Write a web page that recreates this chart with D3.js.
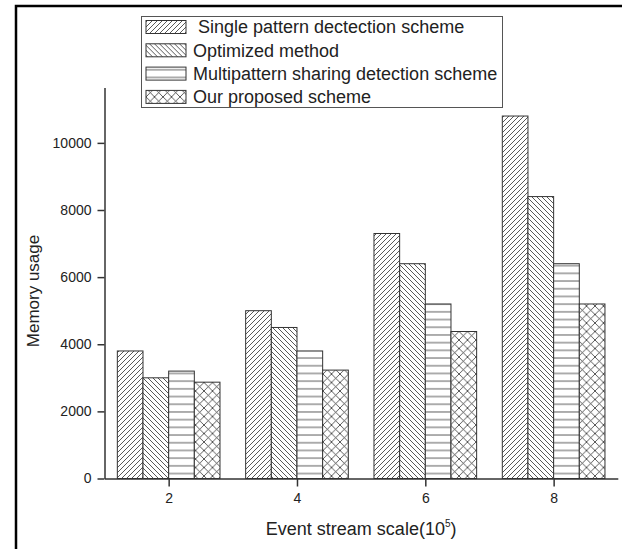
<!DOCTYPE html>
<html>
<head>
<meta charset="utf-8">
<script src="https://cdn.jsdelivr.net/npm/d3@7"></script>
<style>
  body { margin: 0; background: #fff; }
  text { font-family: "Liberation Sans", Arial, sans-serif; fill: #222; }
</style>
</head>
<body>
<script>
//Chart data
var categories = [2, 4, 6, 8];
var seriesNames = [" Single pattern dectection scheme", "Optimized method",
                   "Multipattern sharing detection scheme", "Our proposed scheme"];
var single = [3800, 5000, 7300, 10800];
var optimized = [3000, 4500, 6400, 8400];
var multipattern = [3200, 3800, 5200, 6400];
var proposed = [2870, 3230, 4380, 5200];
var yTicks = [0, 2000, 4000, 6000, 8000, 10000];

var allSeries = [single, optimized, multipattern, proposed];

var w = 627, h = 549;

var svg = d3.select("body").append("svg")
    .attr("width", w)
    .attr("height", h);

//Patterns
var defs = svg.append("defs");
function makePattern(id, pw, ph, d) {
    var p = defs.append("pattern")
        .attr("id", id)
        .attr("patternUnits", "userSpaceOnUse")
        .attr("width", pw)
        .attr("height", ph);
    p.append("rect").attr("width", pw).attr("height", ph).attr("fill", "#fff");
    p.append("path").attr("d", d)
        .attr("stroke", "#222").attr("stroke-width", 0.75).attr("fill", "none");
}
makePattern("p0", 5, 5, "M0,5L5,0M-1,1L1,-1M4,6L6,4");
makePattern("p1", 5, 5, "M0,0L5,5M4,-1L6,1M-1,4L1,6");
makePattern("p2", 10, 7.7, "M0,3.85L10,3.85");
makePattern("p3", 8.5, 8.5, "M0,0L8.5,8.5M8.5,0L0,8.5");

//Frame
svg.append("path")
    .attr("d", "M16," + h + "L16,6L622,6")
    .attr("fill", "none")
    .attr("stroke", "#000")
    .attr("stroke-width", 2.5);

//Scales
var xScale = d3.scaleLinear().domain([1, 9]).range([104.5, 617.8]);
var yScale = d3.scaleLinear().domain([0, 11650]).range([478.5, 87.5]);

var groupW = (xScale(2) - xScale(1)) * 0.8 * 2;
var inner = d3.scaleBand().domain(d3.range(allSeries.length))
    .range([-groupW / 2, groupW / 2]);

//Bars
allSeries.forEach(function(vals, si) {
    svg.append("g").selectAll("rect")
        .data(vals)
        .enter().append("rect")
        .attr("x", function(d, i) { return xScale(categories[i]) + inner(si); })
        .attr("y", function(d) { return yScale(d); })
        .attr("width", inner.bandwidth())
        .attr("height", function(d) { return yScale(0) - yScale(d); })
        .attr("fill", "url(#p" + si + ")")
        .attr("stroke", "#333")
        .attr("stroke-width", 1);
});

//Axes
var xAxis = d3.axisBottom(xScale).tickValues(categories)
    .tickFormat(d3.format("d"))
    .tickSize(8).tickSizeOuter(0).tickPadding(7);
var yAxis = d3.axisLeft(yScale).tickValues(yTicks)
    .tickFormat(d3.format("d"))
    .tickSize(7).tickSizeOuter(0).tickPadding(6);

var gx = svg.append("g").attr("transform", "translate(0," + yScale(0) + ")").call(xAxis);
var gy = svg.append("g").attr("transform", "translate(" + xScale(1) + ",0)").call(yAxis);

[gx, gy].forEach(function(g) {
    g.select(".domain").attr("stroke", "#333").attr("stroke-width", 1.5);
    g.selectAll(".tick line").attr("stroke", "#333").attr("stroke-width", 1.5);
    g.selectAll(".tick text")
        .style("font-family", "'Liberation Sans', Arial, sans-serif")
        .style("font-size", "14px")
        .attr("fill", "#222");
});

//Axis titles
var xt = svg.append("text")
    .attr("x", (xScale(1) + xScale(9)) / 2)
    .attr("y", 535)
    .attr("text-anchor", "middle")
    .style("font-size", "18px");
xt.append("tspan").text("Event stream scale(10");
xt.append("tspan").attr("dy", -8).style("font-size", "10px").text("5");
xt.append("tspan").attr("dy", 8).text(")");

svg.append("text")
    .attr("transform", "translate(33," + 291 + ") rotate(-90)")
    .attr("text-anchor", "middle")
    .attr("dy", "0.35em")
    .style("font-size", "17px")
    .text("Memory usage");

//Legend
var legend = svg.append("g");
legend.append("rect")
    .attr("x", 141.5).attr("y", 16.5)
    .attr("width", 361).attr("height", 91)
    .attr("fill", "#fff")
    .attr("stroke", "#555")
    .attr("stroke-width", 1);

var rows = legend.selectAll("g.row")
    .data(seriesNames)
    .enter().append("g")
    .attr("class", "row")
    .attr("transform", function(d, i) { return "translate(146," + (27 + i * 23.3) + ")"; });

rows.append("rect")
    .attr("x", 0).attr("y", -6.5)
    .attr("width", 40).attr("height", 13)
    .attr("fill", function(d, i) { return "url(#p" + i + ")"; })
    .attr("stroke", "#333")
    .attr("stroke-width", 1);

rows.append("text")
    .attr("x", 47)
    .attr("dy", "0.35em")
    .style("font-size", "18px")
    .style("white-space", "pre")
    .attr("xml:space", "preserve")
    .text(function(d) { return d; });
</script>
</body>
</html>
